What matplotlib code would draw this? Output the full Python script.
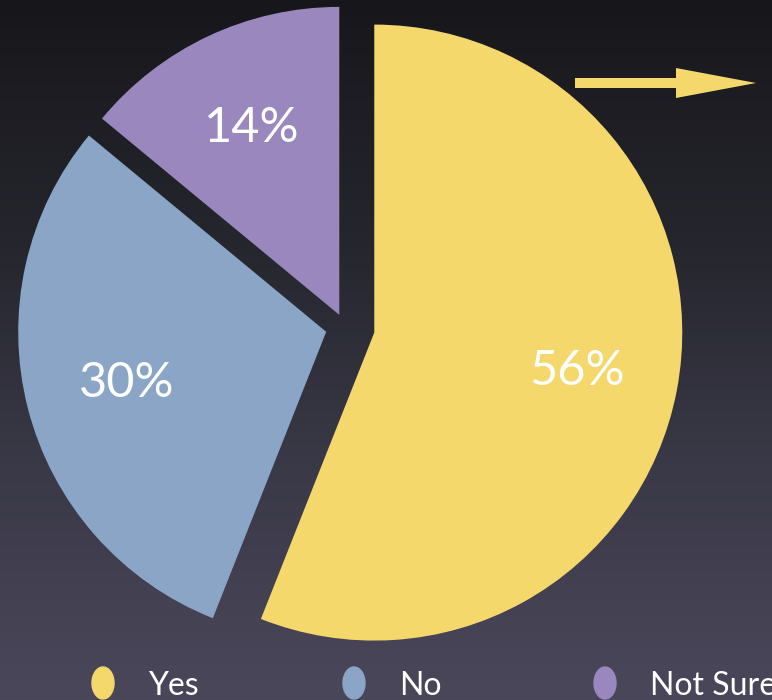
import matplotlib
matplotlib.use("Agg")
import matplotlib.pyplot as plt
import numpy as np
from matplotlib.patches import Ellipse, FancyArrow
from matplotlib.colors import LinearSegmentedColormap

# ---- data ----
categories = ["Yes", "No", "Not Sure"]
values = [56, 30, 14]
colors = ["#f4d86c", "#8aa5c6", "#9a87bd"]

W, H = 772, 700
R = 308
# explode offsets (in pixels, since the axes use pixel units)
explode = [29.8, 19.4, 13.4]

fig = plt.figure(figsize=(W / 100, H / 100), dpi=100)
ax = fig.add_axes([0, 0, 1, 1])

# background gradient (top dark -> bottom lighter purple-grey)
bg = LinearSegmentedColormap.from_list(
    "bg", ["#4b475b", "#3a3947", "#25252d", "#17171b"])
grad = np.linspace(0, 1, 256).reshape(-1, 1)
ax.imshow(grad, cmap=bg, extent=[0, W, 0, H], aspect="auto", origin="lower",
          zorder=0)

cx, cy = 345, H - 327
wedges, texts, autotexts = ax.pie(
    values, colors=colors, explode=explode, startangle=90, counterclock=False,
    radius=R, center=(cx, cy), autopct="%.0f%%", pctdistance=0.67,
    wedgeprops=dict(linewidth=0, zorder=2),
    textprops=dict(color="white", fontsize=35, family="Lato"))
for t in autotexts:
    t.set_zorder(3)

# arrow top right
ax.add_patch(FancyArrow(575, H - 83, 181, 0, width=10, head_width=30,
                        head_length=80, length_includes_head=True,
                        color=colors[0], linewidth=0, zorder=2))

# legend
lx0, step, ly = 103, 251, 17
for i, (cat, col) in enumerate(zip(categories, colors)):
    x = lx0 + i * step
    ax.add_patch(Ellipse((x, ly), 22, 32, color=col, zorder=2))
    ax.text(x + 45, 5, cat, color="white", fontsize=23, family="Lato",
            ha="left", va="baseline", zorder=3)

ax.set_xlim(0, W)
ax.set_ylim(0, H)
ax.set_aspect("auto")
ax.axis("off")
fig.savefig("out.png", dpi=100)
